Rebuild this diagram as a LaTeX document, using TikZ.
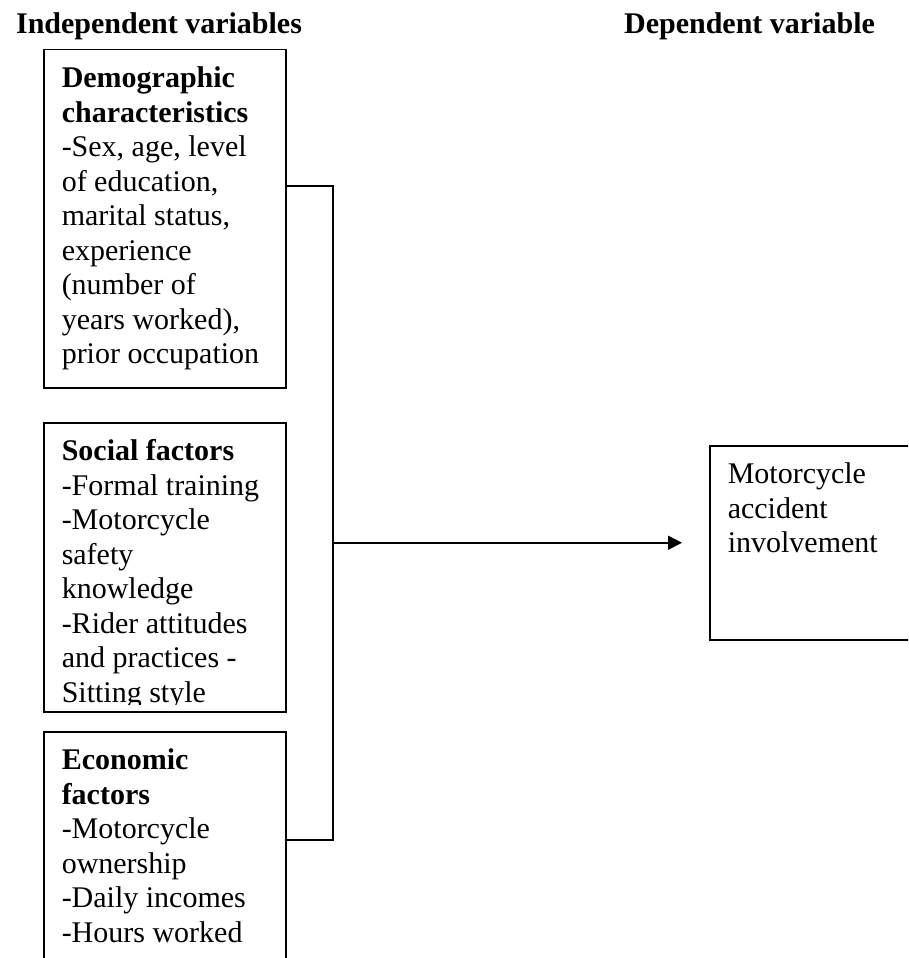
\documentclass[tikz,border=0pt]{standalone}
\usepackage{fontspec}
\setmainfont{Liberation Serif}
\usetikzlibrary{calc,arrows.meta}

\begin{document}
\begin{tikzpicture}[x=1pt,y=-1pt,line width=1.5pt,
    font=\fontsize{30}{34.5}\selectfont,
    varbox/.style={draw,anchor=north west,minimum width=242pt,inner sep=0pt},
    vartext/.style={anchor=north west,align=left,inner sep=0pt,xshift=18pt,yshift=-17pt}]
  \useasboundingbox (0,0) rectangle (908,958);
  \clip (0,0) rectangle (908,958);
  \node[anchor=base west] (indep) at (12,34) {\textbf{Independent variables}};
  \node[anchor=base west] (dep) at (620,34) {\textbf{Dependent variable}};

  % independent variables
  \node[varbox,minimum height=338pt] (demo) at (43,49) {};
  \node[vartext] (demotext) at (demo.north west) {\textbf{Demographic}\\\textbf{characteristics}\\-Sex, age, level\\of education,\\marital status,\\experience\\(number of\\years worked),\\prior occupation};
  \node[varbox,minimum height=289pt] (social) at (43,422) {};
  \begin{scope}
    \clip (social.north west) rectangle ($(social.south east)+(0,-8)$);
    \node[vartext] (socialtext) at (social.north west) {\textbf{Social factors}\\-Formal training\\-Motorcycle\\safety\\knowledge\\-Rider attitudes\\and practices -\\Sitting style};
  \end{scope}
  \node[varbox,minimum height=260pt] (econ) at (43,731) {};
  \node[vartext] (econtext) at (econ.north west) {\textbf{Economic}\\\textbf{factors}\\-Motorcycle\\ownership\\-Daily incomes\\-Hours worked};

  % dependent variable
  \node[varbox,minimum height=194pt] (outcome) at (709,445) {};
  \node[vartext] (outcometext) at (outcome.north west) {Motorcycle\\accident\\involvement};

  % joining lines
  \coordinate (bustop) at (333,186);
  \coordinate (busbot) at (333,840);
  \draw (demo.east |- bustop) -- (bustop) -- (busbot) -- (econ.east |- busbot);
  \draw[-{Triangle[length=14pt,width=14pt]},shorten >=27pt] (bustop |- outcome.west) -- (outcome.west);
\end{tikzpicture}
\end{document}
